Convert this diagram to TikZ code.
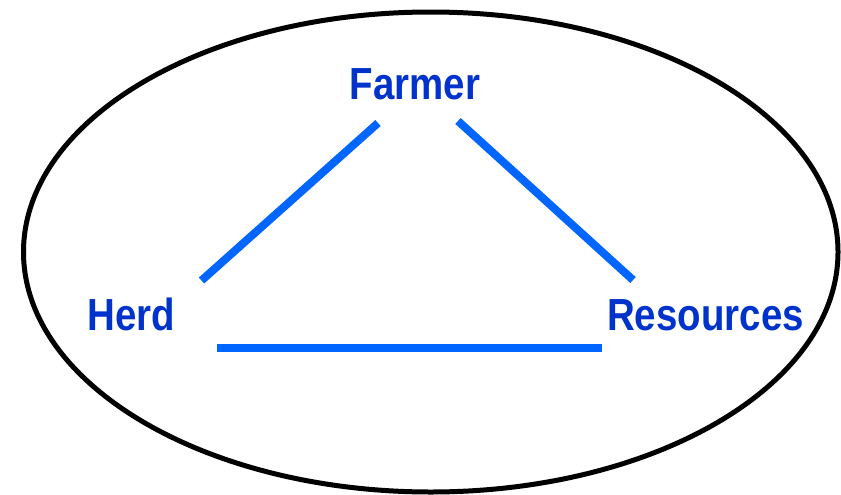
\documentclass[tikz,border=0pt]{standalone}
\usepackage{fontspec}
\usepackage{xcolor}
\usepackage{tikz}
\usetikzlibrary{positioning,calc}
\newfontfamily\lblfont[FakeStretch=0.855]{Liberation Sans}
\definecolor{lblblue}{HTML}{0033CC}
\definecolor{linkblue}{HTML}{0066FF}
\tikzset{
  actor/.style={inner sep=0pt, anchor=base, text=lblblue,
                font=\lblfont\fontsize{25.6pt}{30pt}\selectfont\bfseries},
  link/.style={draw=linkblue, line width=0.16cm},
  frame/.style={draw=black, line width=0.1cm},
}

\begin{document}
\begin{tikzpicture}[x=0.02cm, y=-0.02cm]
    \useasboundingbox (0,0) rectangle (841,494);
    \draw[frame] (430.75,252) ellipse [x radius=407.25, y radius=240];
    \node[actor] (farmer) at (415,99) {Farmer};
    \node[actor] (herd) at (131.5,330) {Herd};
    \node[actor] (resources) at (705.5,330) {Resources};
    \draw[link] ([xshift=-0.74cm, yshift=-0.48cm]farmer.base) -- ([xshift=1.40cm, yshift=0.99cm]herd.base);
    \draw[link] ([xshift=0.86cm, yshift=-0.44cm]farmer.base) -- ([xshift=-1.45cm, yshift=1.0cm]resources.base);
    \draw[link] ([xshift=1.71cm, yshift=-0.36cm]herd.base) -- ([xshift=-2.07cm, yshift=-0.36cm]resources.base);
  \end{tikzpicture}
\end{document}
